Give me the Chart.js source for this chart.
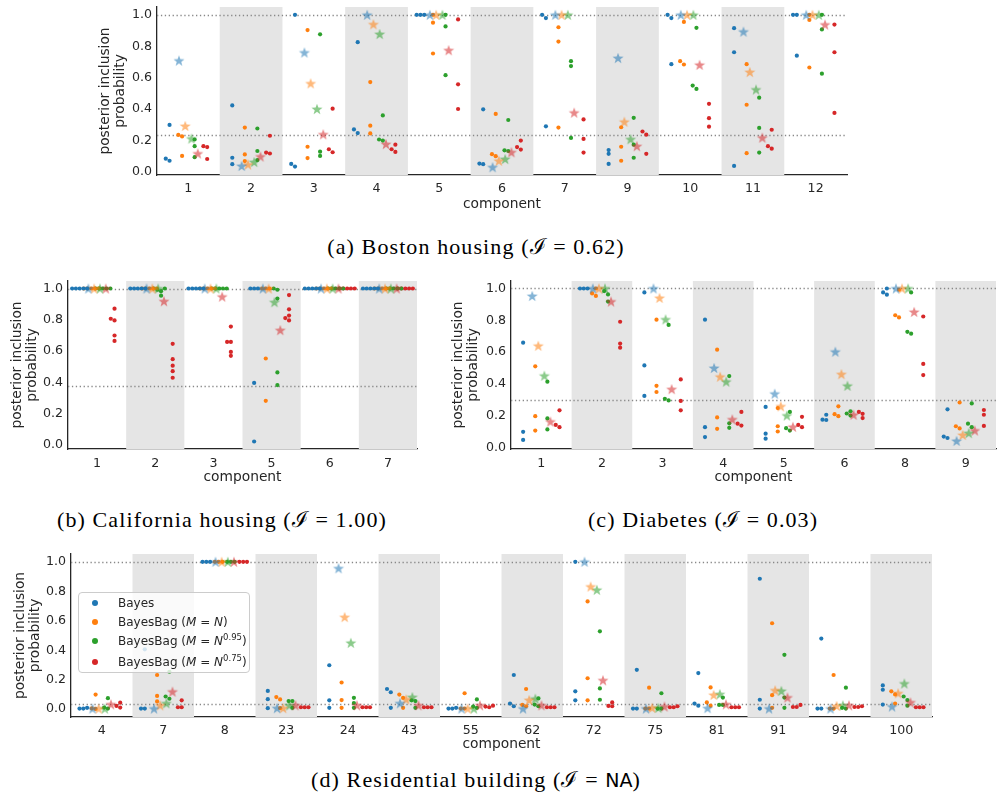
<!DOCTYPE html>
<html>
<head>
<meta charset="utf-8">
<script src="https://cdn.jsdelivr.net/npm/chart.js@4.4.1/dist/chart.umd.min.js"></script>
<style>
  body { margin: 0; width: 997px; height: 800px; overflow: hidden; background: #fff; position: relative; }
  canvas { position: absolute; }
  .cap { position: absolute; width: 500px; height: 30px; line-height: 30px; text-align: center; letter-spacing: 1.1px;
         font-family: 'Liberation Serif', 'DejaVu Serif', serif; font-size: 22px; color: #000; white-space: nowrap; }
  .cap .sf { font-family: 'DejaVu Sans', sans-serif; font-size: 19px; letter-spacing: 0; }
  #legend { position: absolute; left: 78px; top: 592px; width: 172px; height: 81px; box-sizing: border-box;
            background: rgba(255,255,255,0.8); border: 1px solid #cccccc; border-radius: 4px;
            font: 12px 'DejaVu Sans', sans-serif; color: #262626; }
  #legend .row { position: absolute; left: 0; height: 16px; line-height: 16px; white-space: nowrap; }
  #legend .mk { position: absolute; left: 13px; top: 5px; width: 6px; height: 6px; border-radius: 50%; }
  #legend .tx { position: absolute; left: 39px; top: 0; }
  #legend sup { font-size: 8.5px; vertical-align: 5px; line-height: 0; }
</style>
</head>
<body>
<canvas id="ca" width="757" height="213" style="left:97px;top:0px"></canvas>
<canvas id="cb" width="415" height="212" style="left:9px;top:274px"></canvas>
<canvas id="cc" width="553" height="212" style="left:450px;top:274px"></canvas>
<canvas id="cd" width="927" height="206" style="left:12px;top:547px"></canvas>

<div id="legend">
  <div class="row" style="top:2px"><span class="mk" style="background:#1f77b4"></span><span class="tx">Bayes</span></div>
  <div class="row" style="top:21px"><span class="mk" style="background:#ff7f0e"></span><span class="tx">BayesBag (<i>M</i> = <i>N</i>)</span></div>
  <div class="row" style="top:40px"><span class="mk" style="background:#2ca02c"></span><span class="tx">BayesBag (<i>M</i> = <i>N</i><sup>0.95</sup>)</span></div>
  <div class="row" style="top:61px"><span class="mk" style="background:#d62728"></span><span class="tx">BayesBag (<i>M</i> = <i>N</i><sup>0.75</sup>)</span></div>
</div>

<div class="cap" style="left:226px;top:232px">(a) Boston housing (ℐ = 0.62)</div>
<div class="cap" style="left:-28px;top:505px">(b) California housing (ℐ = 1.00)</div>
<div class="cap" style="left:453px;top:505px">(c) Diabetes (ℐ = 0.03)</div>
<div class="cap" style="left:226px;top:765px">(d) Residential building (ℐ = <span class="sf">NA</span>)</div>

<script>
// ---- data: (a) Boston housing ----
const A_COMPONENTS = ['1', '2', '3', '4', '5', '6', '7', '9', '10', '11', '12'];
const A_BAYES = [[0.30, 0.085, 0.072], [0.424, 0.091, 0.05], [1.0, 0.052, 0.035], [0.826, 0.271, 0.248],
  [1.0, 1.0, 1.0], [0.399, 0.054, 0.05], [1.0, 0.979, 0.291], [0.14, 0.116, 0.052],
  [1.0, 0.979, 0.686], [0.915, 0.762, 0.039], [1.0, 1.0, 0.74]];
const A_BB_N = [[0.236, 0.227, 0.103], [0.283, 0.112, 0.07], [0.903, 0.161, 0.089], [0.572, 0.295, 0.246],
  [1.0, 0.95, 0.754], [0.37, 0.114, 0.101], [0.921, 0.83, 0.283], [0.285, 0.161, 0.072],
  [0.955, 0.705, 0.684], [0.686, 0.428, 0.12], [1.0, 0.967, 0.665]];
const A_BB_095 = [[0.207, 0.165, 0.095], [0.277, 0.134, 0.076], [0.876, 0.13, 0.103], [0.36, 0.207, 0.2],
  [1.0, 0.926, 0.616], [0.331, 0.138, 0.134], [0.705, 0.674, 0.217], [0.345, 0.174, 0.091],
  [0.917, 0.55, 0.529], [0.473, 0.281, 0.124], [1.0, 0.907, 0.626]];
const A_BB_075 = [[0.165, 0.159, 0.083], [0.231, 0.124, 0.118], [0.403, 0.145, 0.126], [0.174, 0.145, 0.128],
  [0.971, 0.558, 0.401], [0.2, 0.159, 0.143], [0.335, 0.211, 0.124], [0.258, 0.238, 0.116],
  [0.434, 0.343, 0.289], [0.269, 0.165, 0.149], [0.938, 0.762, 0.376]];
const A_STAR_BAYES = [0.709, 0.039, 0.76, 1.0, 1.0, 0.031, 1.0, 0.725, 1.0, 0.893, 1.0];
const A_STAR_N = [0.293, 0.048, 0.564, 0.94, 1.0, 0.072, 1.0, 0.32, 1.0, 0.636, 1.0];
const A_STAR_095 = [0.213, 0.064, 0.401, 0.878, 1.0, 0.083, 1.0, 0.209, 1.0, 0.525, 1.0];
const A_STAR_075 = [0.118, 0.099, 0.24, 0.178, 0.775, 0.126, 0.378, 0.165, 0.682, 0.219, 0.938];
const A_THRESHOLD = 0.235;

// ---- data: (b) California housing ----
const B_COMPONENTS = ['1', '2', '3', '5', '6', '7'];
const B_BAYES = [[1, 1, 1, 1, 1], [1, 1, 1, 1, 1], [1, 1, 1, 1, 1], [1, 1, 1, 0.397, 0.023], [1, 1, 1, 1, 1], [1, 1, 1, 1, 1]];
const B_BB_N = [[1, 1, 1, 1, 1], [1, 1, 1, 1, 1], [1, 1, 1, 1, 1], [1, 1, 1, 0.553, 0.283], [1, 1, 1, 1, 1], [1, 1, 1, 1, 1]];
const B_BB_095 = [[1, 1, 1, 1, 1], [1, 1, 0.992, 0.983, 0.954], [1, 1, 1, 1, 1], [1, 0.992, 0.936, 0.464, 0.383],
  [1, 1, 1, 1, 1], [1, 1, 1, 1, 1]];
const B_BB_075 = [[0.871, 0.807, 0.796, 0.70, 0.665], [0.647, 0.549, 0.507, 0.472, 0.43], [0.757, 0.659, 0.659, 0.595, 0.57],
  [0.958, 0.867, 0.827, 0.811, 0.796], [1, 1, 1, 1, 1], [1, 1, 1, 1, 1]];
const B_STAR_BAYES = [1, 1, 1, 1, 1, 1];
const B_STAR_N = [1, 1, 1, 1, 1, 1];
const B_STAR_095 = [1, 1, 1, 0.913, 1, 1];
const B_STAR_075 = [1, 0.919, 0.948, 0.734, 1, 1];
const B_THRESHOLD = 0.376;

// ---- data: (c) Diabetes ----
const C_COMPONENTS = ['1', '2', '3', '4', '5', '6', '8', '9'];
const C_BAYES = [[0.66, 0.10, 0.049], [1, 1, 1], [0.975, 0.517, 0.325], [0.804, 0.129, 0.067],
  [0.256, 0.088, 0.057], [0.207, 0.176, 0.174], [1.0, 0.975, 0.961], [0.241, 0.07, 0.061]];
const C_BB_N = [[0.511, 0.198, 0.108], [1.0, 0.969, 0.953], [0.804, 0.389, 0.35], [0.616, 0.19, 0.119],
  [0.249, 0.135, 0.102], [0.26, 0.211, 0.198], [0.992, 0.832, 0.818], [0.284, 0.135, 0.121]];
const C_BB_095 = [[0.415, 0.184, 0.115], [0.984, 0.963, 0.918], [0.771, 0.307, 0.297], [0.45, 0.153, 0.125],
  [0.225, 0.123, 0.108], [0.229, 0.215, 0.202], [0.975, 0.728, 0.716], [0.278, 0.151, 0.129]];
const C_BB_075 = [[0.235, 0.143, 0.129], [0.791, 0.654, 0.628], [0.429, 0.294, 0.235], [0.225, 0.151, 0.139],
  [0.194, 0.143, 0.129], [0.225, 0.213, 0.186], [0.824, 0.526, 0.456], [0.237, 0.207, 0.137]];
const C_STAR_BAYES = [0.953, 1.0, 1.0, 0.501, 0.339, 0.603, 1.0, 0.043];
const C_STAR_N = [0.64, 1.0, 0.941, 0.446, 0.26, 0.462, 1.0, 0.08];
const C_STAR_095 = [0.452, 1.0, 0.806, 0.415, 0.202, 0.389, 1.0, 0.092];
const C_STAR_075 = [0.164, 0.918, 0.368, 0.178, 0.131, 0.207, 0.853, 0.108];
const C_THRESHOLD = 0.30;

// ---- data: (d) Residential building ----
const D_COMPONENTS = ['4', '7', '8', '23', '24', '43', '55', '62', '72', '75', '81', '91', '94', '100'];
const D_BAYES = [[0.009, 0.004, 0.004], [0.406, 0.004, 0.004], [1, 1, 1], [0.124, 0.068, 0.007], [0.298, 0.06, 0.009],
  [0.137, 0.115, 0.009], [0.009, 0.004, 0.004], [0.232, 0.038, 0.02], [1.0, 0.121, 0.06], [0.267, 0.004, 0.004],
  [0.245, 0.038, 0.024], [0.885, 0.064, 0.004], [0.479, 0.004, 0.004], [0.161, 0.132, 0.031]];
const D_BB_N = [[0.099, 0.005, 0.002], [0.232, 0.09, 0.053], [1, 1, 1], [0.082, 0.066, 0.007], [0.181, 0.062, 0.009],
  [0.099, 0.077, 0.009], [0.108, 0.004, 0.004], [0.137, 0.029, 0.02], [0.731, 0.21, 0.06], [0.146, 0.004, 0.004],
  [0.148, 0.046, 0.024], [0.583, 0.095, 0.009], [0.232, 0.004, 0.004], [0.121, 0.1, 0.038]];
const D_BB_095 = [[0.075, 0.011, 0.004], [0.254, 0.086, 0.071], [1, 1, 1], [0.055, 0.055, 0.009], [0.077, 0.042, 0.009],
  [0.06, 0.055, 0.009], [0.066, 0.018, 0.009], [0.073, 0.031, 0.02], [0.528, 0.141, 0.064], [0.108, 0.004, 0.004],
  [0.079, 0.029, 0.029], [0.369, 0.079, 0.009], [0.146, 0.009, 0.004], [0.086, 0.062, 0.024]];
const D_BB_075 = [[0.044, 0.022, 0.011], [0.06, 0.013, 0.013], [1, 1, 1], [0.013, 0.013, 0.013], [0.013, 0.013, 0.013],
  [0.013, 0.013, 0.013], [0.024, 0.018, 0.013], [0.013, 0.013, 0.013], [0.046, 0.022, 0.02], [0.02, 0.013, 0.013],
  [0.013, 0.013, 0.013], [0.029, 0.015, 0.015], [0.02, 0.015, 0.015], [0.013, 0.013, 0.013]];
const D_STAR_BAYES = [0.004, 0.004, 1, 0.007, 0.956, 0.04, 0.004, 0.004, 1.0, 0.004, 0.007, 0.004, 0.004, 0.018];
const D_STAR_N = [0.004, 0.026, 1, 0.007, 0.625, 0.066, 0.004, 0.062, 0.832, 0.009, 0.097, 0.128, 0.022, 0.108];
const D_STAR_095 = [0.004, 0.04, 1, 0.026, 0.45, 0.082, 0.004, 0.071, 0.81, 0.009, 0.102, 0.124, 0.026, 0.174];
const D_STAR_075 = [0.033, 0.119, 1, 0.026, 0.026, 0.026, 0.026, 0.026, 0.196, 0.018, 0.033, 0.079, 0.026, 0.046];
const D_THRESHOLD = 0.033;

const Y_TICKS = [0, 0.2, 0.4, 0.6, 0.8, 1.0];

// ---- styling ----
const TAB = ['#1f77b4', '#ff7f0e', '#2ca02c', '#d62728'];
const DOT_OFFSETS = [-0.3, -0.1, 0.1, 0.3];   // dodge of the dot columns inside a category
const STAR_OFFSETS = [-0.15, -0.05, 0.05, 0.15];
const DOT_DIAM = 3.8;
const INK = '#262626';

Chart.defaults.font.family = "'DejaVu Sans', sans-serif";
Chart.defaults.color = INK;

const starImage = (color) => {
  const c = document.createElement('canvas');
  c.width = 14; c.height = 14;
  const g = c.getContext('2d');
  g.globalAlpha = 0.55;
  g.fillStyle = color;
  g.beginPath();
  for (let k = 0; k < 10; k++) {
    const r = k % 2 ? 2.35 : 5.8;
    const a = -Math.PI / 2 + k * Math.PI / 5;
    const px = 7 + r * Math.cos(a), py = 7.5 + r * Math.sin(a);
    k ? g.lineTo(px, py) : g.moveTo(px, py);
  }
  g.closePath();
  g.fill();
  return c;
};
const STAR_IMGS = TAB.map(starImage);

// beeswarm-like placement so overlapping dots sit side by side
const swarm = (vals, center, xUnit, yUnit) => {
  const placed = [];
  const out = [];
  [...vals].sort((a, b) => a - b).forEach((v) => {
    const yp = v * yUnit;
    for (const k of [0, -1, 1, -2, 2, -3, 3, -4, 4]) {
      const xp = k * DOT_DIAM;
      const hit = placed.some((p) => (p.xp - xp) ** 2 + (p.yp - yp) ** 2 < DOT_DIAM * DOT_DIAM * 0.95);
      if (!hit) {
        placed.push({xp, yp});
        out.push({x: center + xp / xUnit, y: v});
        break;
      }
    }
  });
  return out;
};

const backdrop = {
  id: 'backdrop',
  beforeDatasetsDraw(chart, args, opts) {
    const {ctx, chartArea: a, scales: {x, y}} = chart;
    ctx.save();
    ctx.fillStyle = '#e5e5e5';
    for (let i = 1; i < opts.n; i += 2) {
      const l = x.getPixelForValue(i - 0.5), r = x.getPixelForValue(i + 0.5);
      ctx.fillRect(l, a.top, r - l, a.bottom - a.top);
    }
    ctx.strokeStyle = '#888888';
    ctx.lineWidth = 1.3;
    ctx.setLineDash([1.3, 2.6]);
    [1, opts.threshold].forEach((v) => {
      const py = Math.round(y.getPixelForValue(v)) + 0.5;
      ctx.beginPath();
      ctx.moveTo(a.left, py);
      ctx.lineTo(a.right, py);
      ctx.stroke();
    });
    ctx.restore();
  },
};

const makePanel = (id, comps, dots, stars, threshold, yMin, yMax, geom) => {
  const canvas = document.getElementById(id);
  const plotW = canvas.width - geom.yW - 2;
  const plotH = canvas.height - geom.xH - 3;
  const xUnit = plotW / comps.length;
  const yUnit = plotH / (yMax - yMin);

  const datasets = [];
  stars.forEach((vals, s) => {
    datasets.push({
      data: vals.map((v, i) => ({x: i + STAR_OFFSETS[s], y: v})),
      pointStyle: STAR_IMGS[s],
      pointRadius: 6,
      order: 0,
    });
  });
  dots.forEach((groups, s) => {
    const pts = [];
    groups.forEach((vals, i) => pts.push(...swarm(vals, i + DOT_OFFSETS[s], xUnit, yUnit)));
    datasets.push({data: pts, backgroundColor: TAB[s], pointRadius: 2.1, borderWidth: 0, order: 1});
  });

  new Chart(canvas, {
    type: 'scatter',
    data: {datasets},
    options: {
      responsive: false,
      animation: false,
      events: [],
      layout: {padding: {top: 3, right: 2, left: 0, bottom: 0}},
      plugins: {
        legend: {display: false},
        tooltip: {enabled: false},
        backdrop: {n: comps.length, threshold},
      },
      scales: {
        x: {
          type: 'linear',
          min: -0.5,
          max: comps.length - 0.5,
          grid: {display: false, drawTicks: false},
          border: {display: true, color: INK, width: 1.3},
          ticks: {padding: geom.tickPad, color: INK, font: {size: 12.6}, autoSkip: false, maxRotation: 0,
            callback: (v) => comps[v]},
          afterBuildTicks: (s) => { s.ticks = comps.map((_, i) => ({value: i})); },
          afterFit: (s) => { s.height = geom.xH; s.paddingLeft = 0; s.paddingRight = 0; },
          title: {display: true, text: 'component', color: INK, font: {size: 13.8}, padding: 0},
        },
        y: {
          min: yMin,
          max: yMax,
          grid: {display: false, drawTicks: false},
          border: {display: true, color: INK, width: 1.3},
          ticks: {padding: 5, color: INK, font: {size: 12.6}, callback: (v) => v.toFixed(1)},
          afterBuildTicks: (s) => { s.ticks = Y_TICKS.map((v) => ({value: v})); },
          afterFit: (s) => { s.width = geom.yW; s.paddingTop = 0; s.paddingBottom = 0; },
          title: {display: true, text: ['posterior inclusion', 'probability'], color: INK,
            font: {size: 13.8, lineHeight: 1.15}, padding: 0},
        },
      },
    },
    plugins: [backdrop],
  });
};

makePanel('ca', A_COMPONENTS, [A_BAYES, A_BB_N, A_BB_095, A_BB_075],
  [A_STAR_BAYES, A_STAR_N, A_STAR_095, A_STAR_075], A_THRESHOLD, -0.0186, 1.0497, {yW: 60, xH: 38, tickPad: 6});
makePanel('cb', B_COMPONENTS, [B_BAYES, B_BB_N, B_BB_095, B_BB_075],
  [B_STAR_BAYES, B_STAR_N, B_STAR_095, B_STAR_075], B_THRESHOLD, -0.025, 1.048, {yW: 59, xH: 37, tickPad: 7});
makePanel('cc', C_COMPONENTS, [C_BAYES, C_BB_N, C_BB_095, C_BB_075],
  [C_STAR_BAYES, C_STAR_N, C_STAR_095, C_STAR_075], C_THRESHOLD, -0.008, 1.047, {yW: 61, xH: 37, tickPad: 7});
makePanel('cd', D_COMPONENTS, [D_BAYES, D_BB_N, D_BB_095, D_BB_075],
  [D_STAR_BAYES, D_STAR_N, D_STAR_095, D_STAR_075], D_THRESHOLD, -0.053, 1.053, {yW: 59, xH: 36, tickPad: 6});
</script>
</body>
</html>
